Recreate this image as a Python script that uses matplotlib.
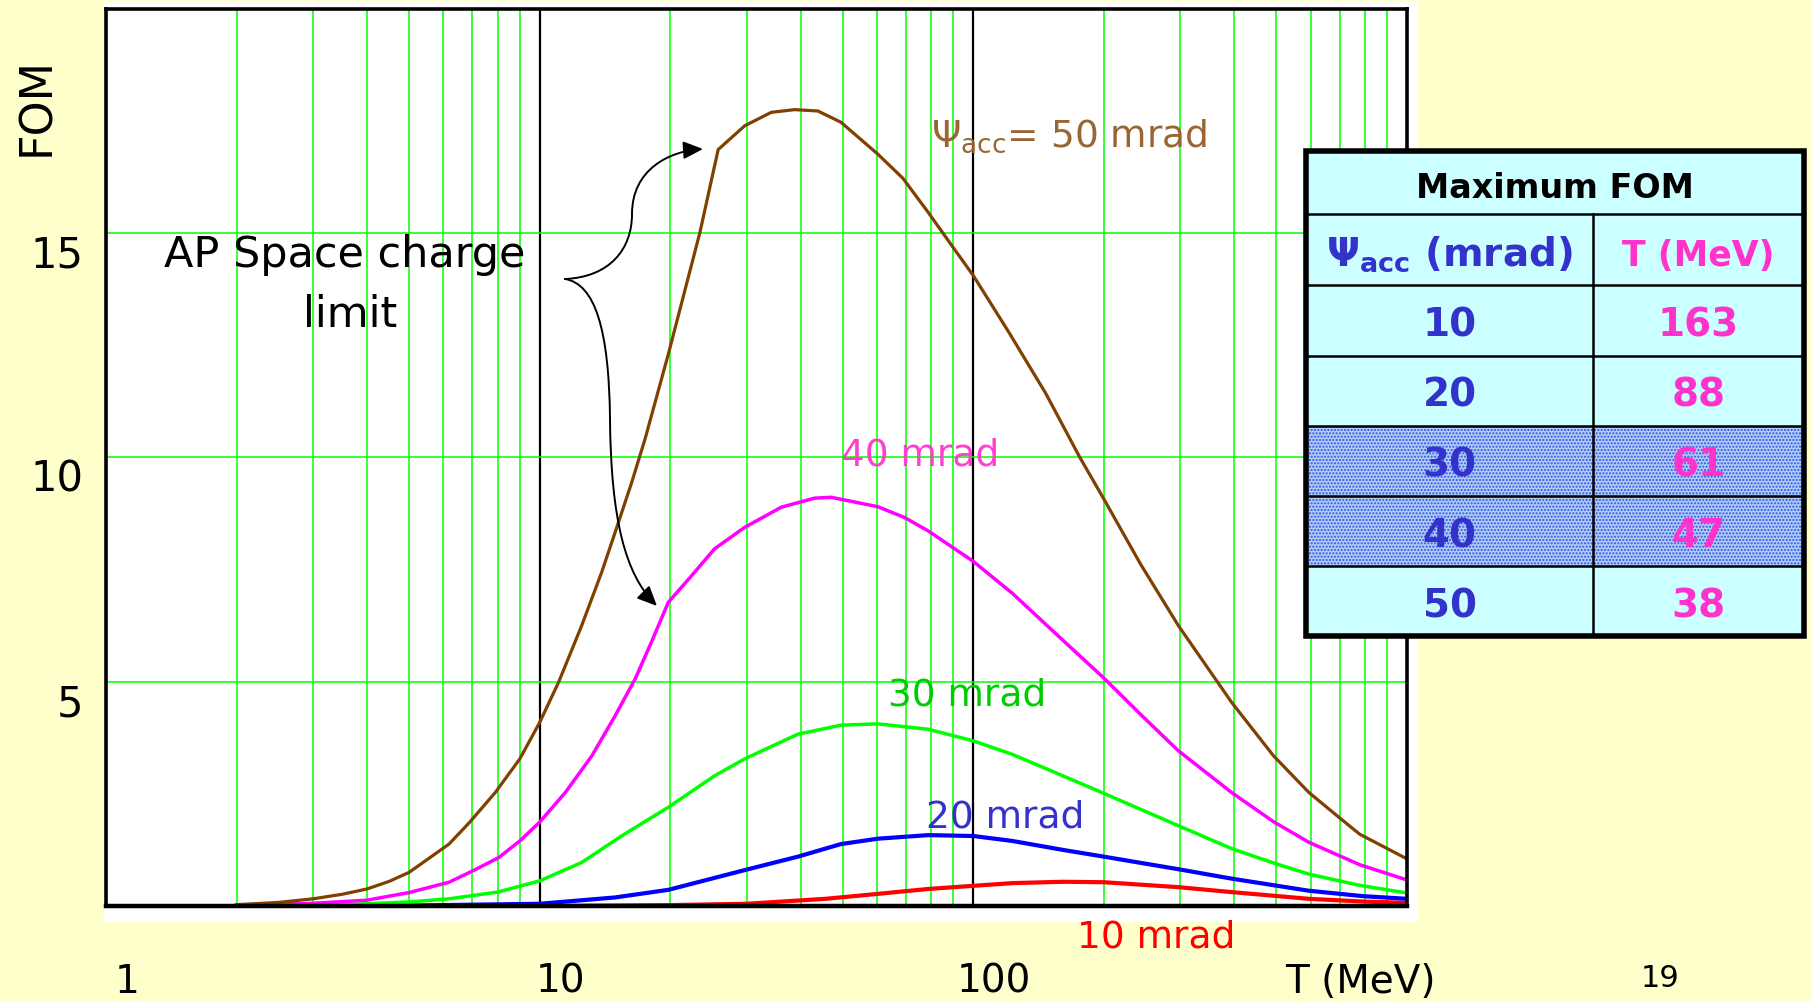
import matplotlib.pyplot as plt
import numpy as np
from matplotlib.patches import Rectangle, FancyArrowPatch, ArrowStyle
from matplotlib.path import Path
from matplotlib.transforms import Affine2D, ScaledTranslation
from matplotlib.ticker import FixedLocator, LogLocator, NullFormatter

plt.rcParams["font.family"] = ["DejaVu Sans"]
plt.rcParams["mathtext.fontset"] = "dejavusans"

# FOM vs kinetic energy T (MeV), one curve per acceptance angle psi_acc
t_50 = [2, 2.5, 3, 3.5, 4, 4.5, 5, 6.18, 6.9, 7.9, 9, 10, 11.06, 12.5, 13.9, 14.93, 16.3,
        17.5, 19.8, 23.4, 25.8, 29.7, 34.2, 38.7, 43.8, 49.5, 60.2, 68.8, 78.7, 89.2, 100,
        120.9, 147, 176, 200, 243, 297, 394, 492, 594, 690, 778, 1000]
fom_50 = [0.03, 0.08, 0.16, 0.26, 0.38, 0.55, 0.75, 1.38, 1.87, 2.53, 3.28, 4.09, 4.99, 6.25,
          7.44, 8.33, 9.44, 10.41, 12.3, 15.0, 16.86, 17.39, 17.69, 17.75, 17.72, 17.47, 16.76,
          16.22, 15.46, 14.72, 14.05, 12.78, 11.42, 10.0, 9.07, 7.62, 6.25, 4.54, 3.35, 2.53,
          2.01, 1.60, 1.05]

t_40 = [2, 3, 4, 5, 6.18, 7, 8.05, 9, 10, 11.46, 13.2, 14.93, 16.6, 18.1, 19.8, 22.4, 25.3,
        29.7, 36.1, 43, 47, 56.1, 60.2, 69.4, 78.7, 100, 123, 161, 200, 243, 297, 394, 492,
        594, 778, 1000]
fom_40 = [0.02, 0.06, 0.13, 0.30, 0.53, 0.78, 1.08, 1.45, 1.87, 2.53, 3.35, 4.24, 5.06, 5.88,
          6.77, 7.36, 7.96, 8.44, 8.89, 9.09, 9.11, 8.96, 8.90, 8.66, 8.36, 7.68, 6.97, 5.92,
          5.08, 4.27, 3.46, 2.53, 1.88, 1.42, 0.92, 0.58]

t_30 = [2, 3, 4, 5, 6.18, 8, 10, 12.5, 15.5, 19.8, 25.3, 29.7, 39.4, 49.5, 60.2, 78.7, 100,
        123, 161, 200, 297, 394, 492, 594, 778, 1000]
fom_30 = [0.0, 0.02, 0.05, 0.09, 0.16, 0.31, 0.56, 0.97, 1.57, 2.20, 2.90, 3.28, 3.83, 4.03,
          4.06, 3.94, 3.68, 3.38, 2.90, 2.51, 1.79, 1.28, 0.96, 0.71, 0.46, 0.29]

t_20 = [2, 5, 10, 14.9, 19.8, 29.7, 39.4, 49.5, 60.2, 78.7, 100, 123, 161, 200, 297, 394,
        594, 790, 1000]
fom_20 = [0.0, 0.01, 0.05, 0.19, 0.36, 0.80, 1.10, 1.38, 1.50, 1.58, 1.56, 1.45, 1.25, 1.10,
          0.82, 0.61, 0.34, 0.22, 0.16]

t_10 = [2, 10, 20, 30, 45.6, 60.2, 78.7, 100, 123, 161, 200, 297, 394, 594, 790, 1000]
fom_10 = [0.0, 0.0, 0.02, 0.05, 0.16, 0.27, 0.38, 0.45, 0.51, 0.54, 0.53, 0.42, 0.31, 0.16,
          0.10, 0.07]

x_ticks = [1, 10, 100]
y_ticks = [5, 10, 15]

# table of maximum FOM
table_psi = [10, 20, 30, 40, 50]
table_t = [163, 88, 61, 47, 38]
shaded_psi = [30, 40]

W, H = 1811, 1003
fig = plt.figure(figsize=(W / 100, H / 100), dpi=100, facecolor="#FFFFCC")
px = Affine2D().scale(1 / W, -1 / H).translate(0, 1) + fig.transFigure  # pixel coords, y down

fig.add_artist(Rectangle((104, 2), 1314, 921, transform=px, facecolor="white",
                         edgecolor="none", zorder=-1))

ax = fig.add_axes([106 / W, 1 - 907 / H, (1407 - 106) / W, (907 - 9.7) / H])
ax.set_xscale("log")
ax.set_xlim(1, 1000)
ax.set_ylim(0, 20)
for s in ax.spines.values():
    s.set_linewidth(2.6)
ax.spines["bottom"].set_linewidth(3.2)

ax.xaxis.set_major_locator(FixedLocator(x_ticks))
ax.xaxis.set_minor_locator(LogLocator(base=10, subs=np.arange(2, 10)))
ax.xaxis.set_minor_formatter(NullFormatter())
ax.set_xticks(x_ticks, labels=[str(v) for v in x_ticks], fontsize=28)
ax.set_yticks(y_ticks, labels=[str(v) for v in y_ticks], fontsize=30)
ax.tick_params(which="both", length=0)
ax.tick_params(axis="x", pad=40)
ax.tick_params(axis="y", pad=16.5)
for lab in ax.get_xticklabels():
    lab.set_transform(lab.get_transform() + ScaledTranslation(0.21, 0, fig.dpi_scale_trans))
for lab in ax.get_yticklabels():
    lab.set_transform(lab.get_transform() + ScaledTranslation(0, -0.17, fig.dpi_scale_trans))

ax.grid(which="minor", axis="x", color="#00FF00", lw=1.1)
ax.grid(which="major", axis="x", color="black", lw=1.6)
ax.grid(which="major", axis="y", color="#00FF00", lw=1.1)
ax.set_axisbelow(True)

ax.plot(t_10, fom_10, color="#FF0000", lw=3.0)
ax.plot(t_20, fom_20, color="#0000FF", lw=3.0)
ax.plot(t_30, fom_30, color="#00FF00", lw=2.5)
ax.plot(t_40, fom_40, color="#FF00FF", lw=2.5)
ax.plot(t_50, fom_50, color="#7F4000", lw=2.3)

ax.text(79.7, 16.94, r"$\Psi_{\mathrm{acc}}$= 50 mrad", color="#996633", fontsize=27,
        va="baseline")
ax.text(49.5, 9.85, "40 mrad", color="#FF40CC", fontsize=27, va="baseline")
ax.text(63.5, 4.50, "30 mrad", color="#00CC00", fontsize=27, va="baseline")
ax.text(77.6, 1.78, "20 mrad", color="#3333CC", fontsize=27, va="baseline")
ax.text(173, -0.91, "10 mrad", color="#FF0000", fontsize=27, va="baseline", clip_on=False)

# space charge limit note with brace arrows
fig.text(344.5, 267, "AP Space charge", transform=px, fontsize=31, ha="center", va="baseline")
fig.text(350, 327, "limit", transform=px, fontsize=31, ha="center", va="baseline")
head = ArrowStyle("-|>", head_length=0.8, head_width=0.36)
up = Path([(565, 280), (610, 278), (632, 250), (632, 215),
           (632, 170), (670, 152), (703, 150)],
          [Path.MOVETO, Path.CURVE4, Path.CURVE4, Path.CURVE4,
           Path.CURVE4, Path.CURVE4, Path.CURVE4])
down = Path([(565, 280), (595, 285), (609, 330), (610, 420),
             (611, 520), (625, 575), (657, 607)],
            [Path.MOVETO, Path.CURVE4, Path.CURVE4, Path.CURVE4,
             Path.CURVE4, Path.CURVE4, Path.CURVE4])
for p in (up, down):
    fig.add_artist(FancyArrowPatch(path=p, transform=px, arrowstyle=head, mutation_scale=15,
                                   color="black", lw=1.4))

fig.text(37, 107, "FOM", transform=px, fontsize=32, rotation=90, ha="center", va="center")
fig.text(1360, 993, "T (MeV)", transform=px, fontsize=28, ha="center", va="baseline")
fig.text(1660, 987, "19", transform=px, fontsize=22, ha="center", va="baseline")

# table
tab = fig.add_axes([1300 / W, 1 - 642 / H, 510 / W, 496 / H])
tab.set_xlim(1300, 1810)
tab.set_ylim(642, 146)
tab.axis("off")
x0, x1, xm = 1306, 1804, 1593
edges = [152, 215, 286, 356.5, 426.5, 496.5, 567, 637]
tab.add_patch(Rectangle((x0, edges[0]), x1 - x0, edges[-1] - edges[0], facecolor="#CCFFFF",
                        edgecolor="none"))
for i, psi in enumerate(table_psi):
    if psi in shaded_psi:
        tab.add_patch(Rectangle((x0, edges[i + 2]), x1 - x0, edges[i + 3] - edges[i + 2],
                                facecolor="#B0CCF2", edgecolor="#3050EE", hatch=".....", lw=0))
for y in edges[1:-1]:
    tab.plot([x0, x1], [y, y], color="black", lw=1.8)
tab.plot([xm, xm], [edges[1], edges[-1]], color="black", lw=1.8)
tab.add_patch(Rectangle((x0, edges[0]), x1 - x0, edges[-1] - edges[0], facecolor="none",
                        edgecolor="black", lw=4, clip_on=False))

c1, c2 = (x0 + xm) / 2, (xm + x1) / 2
tab.text((x0 + x1) / 2, 198, "Maximum FOM", fontsize=24, fontweight="bold", ha="center",
         va="baseline")
tab.text(c1, 266, r"$\mathbf{\Psi}_{\mathbf{acc}}$ (mrad)", fontsize=28, fontweight="bold",
         color="#3333CC", ha="center", va="baseline")
tab.text(c2, 266, "T (MeV)", fontsize=25, fontweight="bold", color="#FF33CC", ha="center",
         va="baseline")
for i, (psi, tm) in enumerate(zip(table_psi, table_t)):
    yb = (edges[i + 2] + edges[i + 3]) / 2 + 15.5
    tab.text(c1, yb, str(psi), fontsize=28, fontweight="bold", color="#3333CC", ha="center",
             va="baseline")
    tab.text(c2, yb, str(tm), fontsize=28, fontweight="bold", color="#FF33CC", ha="center",
             va="baseline")

fig.savefig("out.png", dpi=100, facecolor=fig.get_facecolor())
